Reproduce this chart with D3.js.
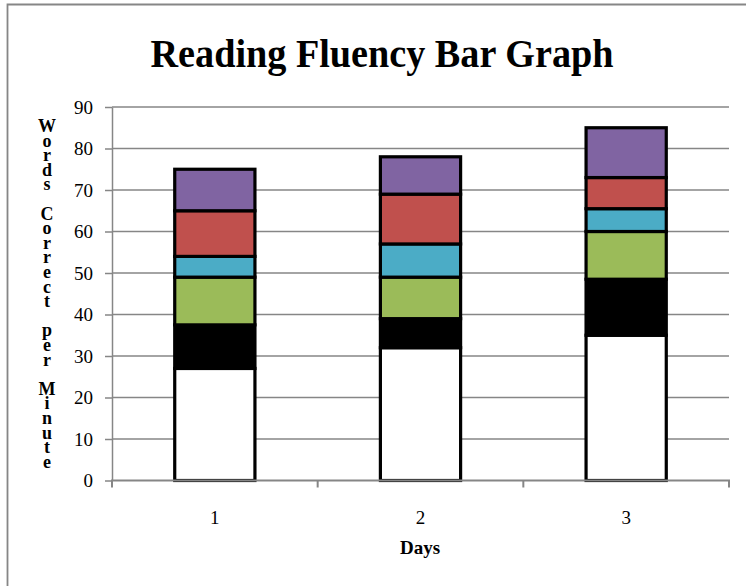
<!DOCTYPE html>
<html>
<head>
<meta charset="utf-8">
<script src="https://cdn.jsdelivr.net/npm/d3@7"></script>
<style>
html, body { margin: 0; padding: 0; background: #fff; }
svg { display: block; }
</style>
</head>
<body>
<svg id="chart" width="746" height="586"></svg>
<script>
const days = ["1", "2", "3"];
const seriesNames = ["s1", "s2", "s3", "s4", "s5", "s6"];
const seriesColors = ["#ffffff", "#000000", "#9BBB59", "#4BACC6", "#C0504D", "#8064A2"];
const s1 = [27, 32, 35];
const s2 = [10.5, 7, 13.5];
const s3 = [11.5, 10, 11.5];
const s4 = [5, 8, 5.5];
const s5 = [11, 12, 7.5];
const s6 = [10, 9, 12];
const yTicks = [0, 10, 20, 30, 40, 50, 60, 70, 80, 90];
const title = "Reading Fluency Bar Graph";
const xTitle = "Days";
const yTitle = "Words Correct per Minute";

const seriesValues = [s1, s2, s3, s4, s5, s6];
const rows = days.map((d, i) => {
  const r = { day: d };
  seriesNames.forEach((n, k) => r[n] = seriesValues[k][i]);
  return r;
});

const svg = d3.select("#chart");
const serif = "'Liberation Serif', 'DejaVu Serif', serif";
const gray = "#868686";

// frame
svg.append("path")
  .attr("d", "M7.5,586 V4.5 H746")
  .attr("fill", "none").attr("stroke", gray).attr("stroke-width", 1.8);

const plot = { left: 112, right: 729, top: 107, bottom: 480.5 };

const x = d3.scaleBand().domain(days).range([plot.left, plot.right]).padding(0);
const y = d3.scaleLinear().domain([0, 90]).range([plot.bottom, plot.top]);

// gridlines
svg.append("g").selectAll("line").data(yTicks.filter(t => t > 0)).join("line")
  .attr("x1", plot.left).attr("x2", plot.right)
  .attr("y1", d => y(d)).attr("y2", d => y(d))
  .attr("stroke", gray).attr("stroke-width", 1.5);

// y axis
const yAxis = svg.append("g").attr("transform", `translate(${plot.left},0)`)
  .call(d3.axisLeft(y).tickValues(yTicks).tickSize(7).tickSizeOuter(0).tickPadding(12));
yAxis.select(".domain").attr("stroke", gray).attr("stroke-width", 1.5);
yAxis.selectAll(".tick line").attr("stroke", gray).attr("stroke-width", 1.5);
yAxis.selectAll(".tick text").attr("font-family", serif).attr("font-size", 19).attr("fill", "#000");

// bars
const stack = d3.stack().keys(seriesNames)(rows);
const barW = x.bandwidth() * 0.39;
svg.append("g").selectAll("g").data(stack).join("g")
  .attr("fill", (d, i) => seriesColors[i])
  .selectAll("rect").data(d => d).join("rect")
  .attr("x", d => x(d.data.day) + (x.bandwidth() - barW) / 2)
  .attr("width", barW)
  .attr("y", d => y(d[1]))
  .attr("height", d => y(d[0]) - y(d[1]))
  .attr("stroke", "#000").attr("stroke-width", 3.2);

// x axis
const xAxis = svg.append("g").attr("transform", `translate(0,${plot.bottom})`)
  .call(d3.axisBottom(x).tickSize(0).tickPadding(30));
xAxis.select(".domain").remove();
xAxis.append("line").attr("x1", plot.left - 1).attr("x2", plot.right + 1)
  .attr("stroke", gray).attr("stroke-width", 2);
xAxis.selectAll(".tick text").attr("font-family", serif).attr("font-size", 19).attr("fill", "#000");
const bounds = days.map(d => x(d)).concat([plot.right]);
xAxis.selectAll(".bnd").data(bounds).join("line").attr("class", "bnd")
  .attr("x1", d => d).attr("x2", d => d).attr("y1", 0).attr("y2", 7)
  .attr("stroke", gray).attr("stroke-width", 2);

// title
svg.append("text").attr("x", 382).attr("y", 67)
  .attr("text-anchor", "middle").attr("font-family", serif)
  .attr("font-weight", "bold").attr("font-size", 40)
  .attr("textLength", 463).attr("lengthAdjust", "spacingAndGlyphs")
  .text(title);

// x title
svg.append("text").attr("x", 420).attr("y", 554)
  .attr("text-anchor", "middle").attr("font-family", serif)
  .attr("font-weight", "bold").attr("font-size", 19)
  .text(xTitle);

// y title: stacked characters
const chars = Array.from(yTitle);
const yt = svg.append("text").attr("font-family", serif)
  .attr("font-weight", "bold").attr("font-size", 18).attr("text-anchor", "middle");
yt.selectAll("tspan").data(chars).join("tspan")
  .attr("x", 47).attr("y", (c, i) => 132 + i * 14.6)
  .text(c => c === " " ? "\u00a0" : c);
</script>
</body>
</html>
